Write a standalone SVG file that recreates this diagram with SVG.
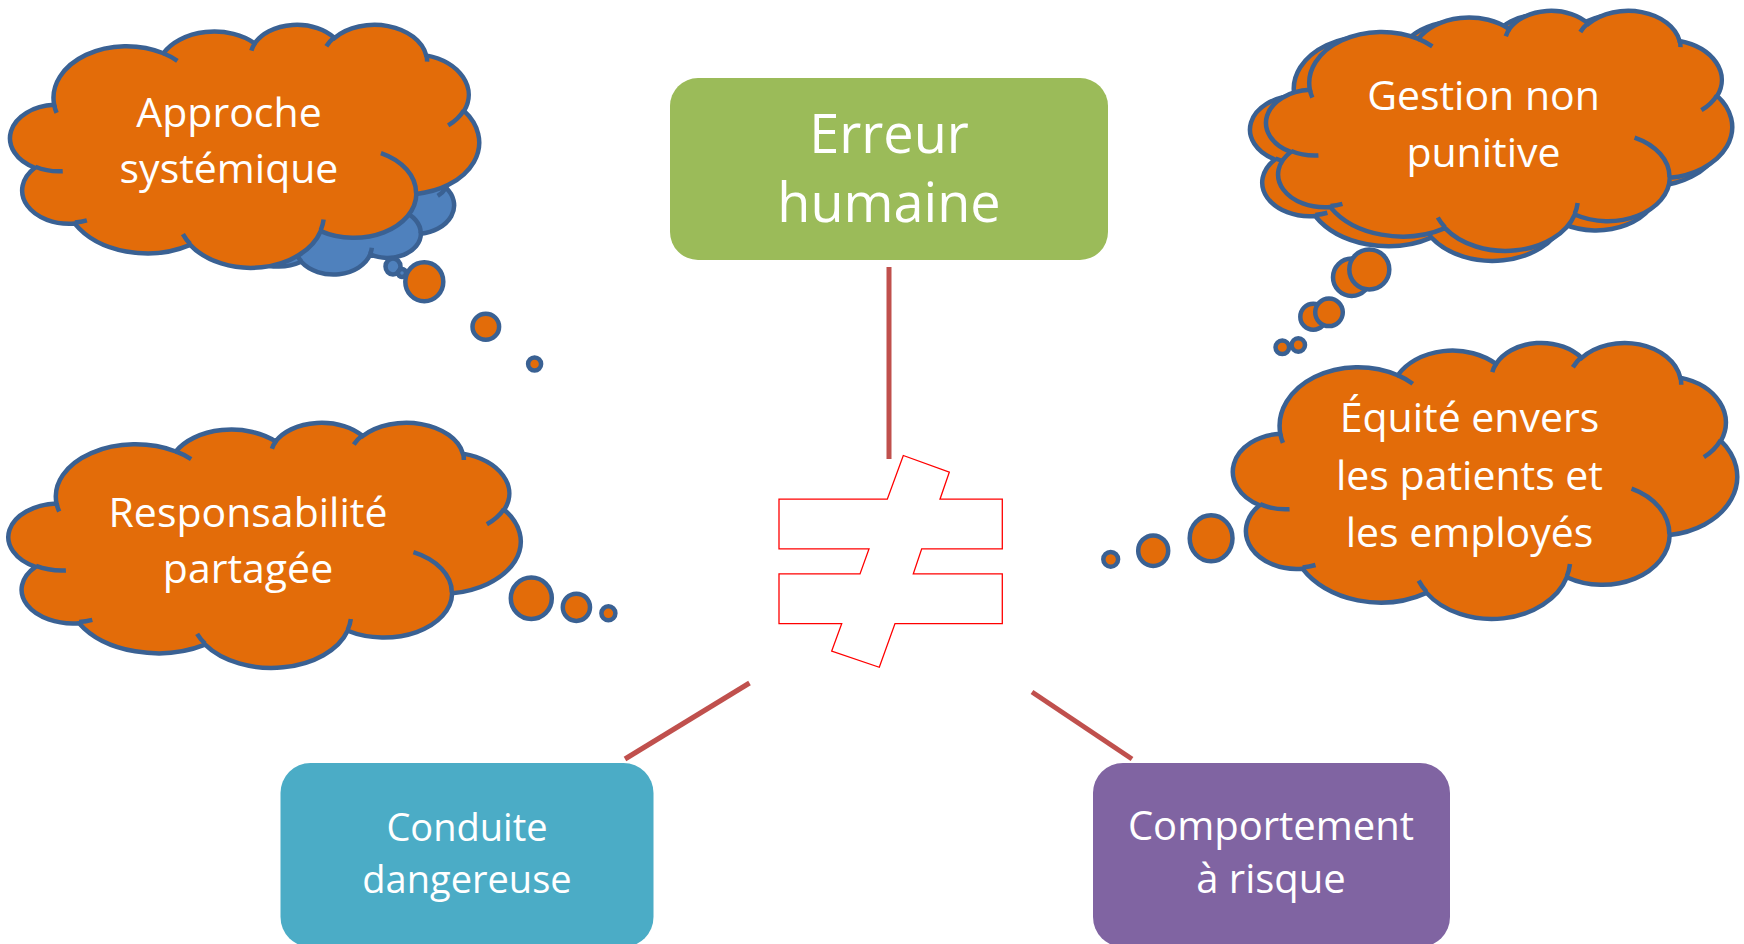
<svg xmlns="http://www.w3.org/2000/svg" xmlns:xlink="http://www.w3.org/1999/xlink" width="1744" height="944" viewBox="0 0 1744 944">
<style>
  .t { font-family: "Open Sans", "Liberation Sans", sans-serif; fill: #FFFFFF; text-anchor: middle; }
  .ct { font-size: 41px; }
  .o { fill: #E36C09; stroke: #3A6193; stroke-width: 4.5; }
  .b { fill: #4F81BD; stroke: #3A6193; stroke-width: 4.5; }
  .inner { fill: none; stroke: #3A6193; stroke-width: 4.5; }
  .conn { stroke: #C0504D; stroke-width: 5; fill: none; }
</style>
<defs>
  <path id="cloudOuter" vector-effect="non-scaling-stroke" d="M 39 143.7 A 67.53 91.9 0 0 1 140.05 52.02 A 53.33 72.67 0 0 1 224.57 34.33 A 43.65 59.45 0 0 1 298.34 24.81 A 48.57 65.95 0 0 1 383.19 55.76 A 53.33 72.73 0 0 1 418.19 154.59 A 67.75 92.2 0 0 1 374.06 302.04 A 57.85 78.67 0 0 1 285.58 368.14 A 67.52 92.15 0 0 1 164.83 392.67 A 77.2 105.43 0 0 1 58.07 354.74 A 43.6 59.18 0 0 1 21.16 255.52 A 43.45 59.45 0 0 1 39 143.7 Z"/>
  <path id="cloudInner" vector-effect="non-scaling-stroke" d="M 46.93 261.77 A 43.45 59.45 0 0 1 21.6 253.8 M 69.28 348.99 A 43.6 59.18 0 0 1 58.2 352.8 M 164.78 390.9 A 67.52 92.15 0 0 1 158.09 373.48 M 288.27 347.51 A 67.52 92.15 0 0 1 285.6 366.6 M 341.29 229.54 A 57.85 78.67 0 0 1 373.8 300.9 M 417.98 153.54 A 53.33 72.73 0 0 1 403.5 180.3 M 383.24 54.26 A 48.57 65.95 0 0 1 384 66.9 M 290.78 39.52 A 48.57 65.95 0 0 1 298.2 23.4 M 221.41 47.2 A 43.65 59.45 0 0 1 225 33.3 M 140 51.92 A 67.53 91.9 0 0 1 153 65.4 M 41.27 157.89 A 67.53 91.9 0 0 1 39 143.7"/>
</defs>

<rect width="1744" height="944" fill="#FFFFFF"/>

<g id="connectors">
  <line class="conn" x1="889" y1="267" x2="889" y2="459"/>
  <line class="conn" x1="749.5" y1="683" x2="625" y2="759"/>
  <line class="conn" x1="1032" y1="692" x2="1132" y2="759"/>
</g>

<g id="node-erreur">
  <rect x="670" y="78" width="438" height="182" rx="28" fill="#9BBB59"/>
  <text class="t" font-size="54" x="889" y="153">Erreur</text>
  <text class="t" font-size="54" x="889" y="222">humaine</text>
</g>

<g id="node-different">
  <polygon points="779,499.2 887.3,499.2 903.3,455.5 949.3,472.2 940,499.2 1002.3,499.2 1002.3,548.9 921.7,548.9 913.3,573.9 1002.3,573.9 1002.3,623.6 895,623.6 879.3,667.3 831.7,651 841.7,623.6 779,623.6 779,573.9 860,573.9 869,548.9 779,548.9" fill="#FFFFFF" stroke="#FF0000" stroke-width="1.3"/>
</g>

<g id="node-conduite">
  <rect x="280.5" y="763" width="373" height="184" rx="30" fill="#4BACC6"/>
  <text class="t" font-size="38" x="467" y="841">Conduite</text>
  <text class="t" font-size="38" x="467" y="893">dangereuse</text>
</g>

<g id="node-comportement">
  <rect x="1093" y="763" width="357" height="184" rx="30" fill="#8064A2"/>
  <text class="t" font-size="40" x="1271" y="840">Comportement</text>
  <text class="t" font-size="40" x="1271" y="893">à risque</text>
</g>

<g id="node-approche">
  <g transform="translate(207 140) scale(0.5718 0.3102)">
    <use xlink:href="#cloudOuter" class="b"/>
    <use xlink:href="#cloudInner" class="inner"/>
  </g>
  <ellipse class="b" cx="393" cy="266.5" rx="7.5" ry="8"/>
  <circle class="b" cx="402" cy="273" r="4"/>
  <g transform="translate(12 24) scale(1.081 0.5625)">
    <use xlink:href="#cloudOuter" class="o"/>
    <use xlink:href="#cloudInner" class="inner"/>
  </g>
  <ellipse class="o" cx="424.3" cy="281.7" rx="19" ry="19.5"/>
  <ellipse class="o" cx="485.8" cy="326.7" rx="13.3" ry="13"/>
  <circle class="o" cx="534.6" cy="364" r="6.5"/>
  <text class="t ct" x="229" y="126.7">Approche</text>
  <text class="t ct" x="229" y="183.3">systémique</text>
</g>

<g id="node-responsabilite">
  <g transform="translate(10.5 422) scale(1.1806 0.5671)">
    <use xlink:href="#cloudOuter" class="o"/>
    <use xlink:href="#cloudInner" class="inner"/>
  </g>
  <ellipse class="o" cx="531.3" cy="598.3" rx="20.5" ry="20.7"/>
  <circle class="o" cx="576.4" cy="607.3" r="13.6"/>
  <circle class="o" cx="608.4" cy="613.3" r="7"/>
  <text class="t ct" x="248" y="526.7">Responsabilité</text>
  <text class="t ct" x="248" y="582.7">partagée</text>
</g>

<g id="node-gestion">
  <g transform="translate(1252 14) scale(1.088 0.5694)">
    <use xlink:href="#cloudOuter" class="o"/>
    <use xlink:href="#cloudInner" class="inner"/>
  </g>
  <circle class="o" cx="1351.7" cy="277.3" r="18.7"/>
  <circle class="o" cx="1313.3" cy="316.7" r="13"/>
  <circle class="o" cx="1282.3" cy="347.3" r="6.8"/>
  <g transform="translate(1268 10) scale(1.0741 0.5556)">
    <use xlink:href="#cloudOuter" class="o"/>
    <use xlink:href="#cloudInner" class="inner"/>
  </g>
  <circle class="o" cx="1369.3" cy="269.5" r="20"/>
  <circle class="o" cx="1329" cy="312.3" r="13.8"/>
  <circle class="o" cx="1298.3" cy="345" r="6.7"/>
  <text class="t ct" x="1483.5" y="110">Gestion non</text>
  <text class="t ct" x="1483.5" y="166.7">punitive</text>
</g>

<g id="node-equite">
  <g transform="translate(1235 342) scale(1.162 0.6389)">
    <use xlink:href="#cloudOuter" class="o"/>
    <use xlink:href="#cloudInner" class="inner"/>
  </g>
  <ellipse class="o" cx="1211.1" cy="538.3" rx="21.4" ry="23"/>
  <ellipse class="o" cx="1153.2" cy="550.7" rx="15" ry="15.3"/>
  <circle class="o" cx="1110.7" cy="559.3" r="7.4"/>
  <text class="t ct" x="1469.5" y="431.7">Équité envers</text>
  <text class="t ct" x="1469.5" y="490">les patients et</text>
  <text class="t ct" x="1469.5" y="546.7">les employés</text>
</g>
</svg>
